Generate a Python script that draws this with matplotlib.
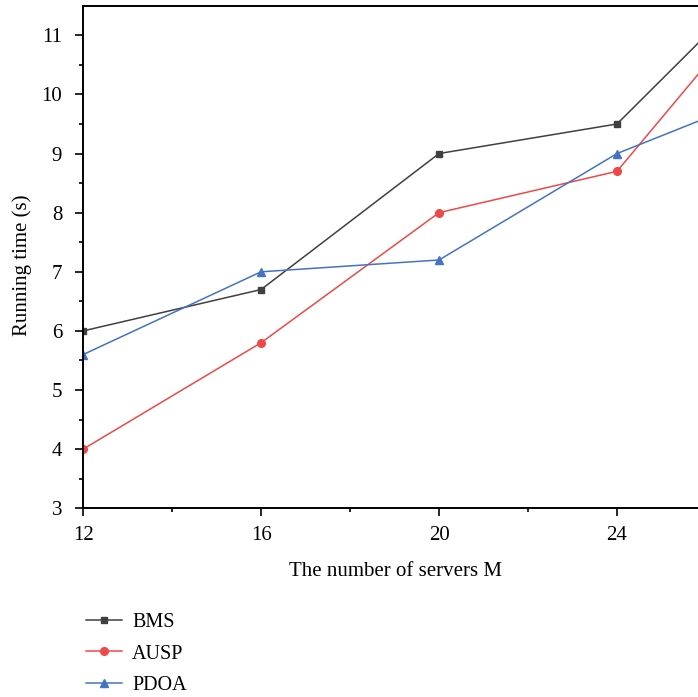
import numpy as np
import matplotlib.pyplot as plt

#Data
servers=[12,16,20,24,28]
bms=[6.0,6.7,9.0,9.5,12.5]
ausp=[4.0,5.8,8.0,8.7,12.3]
pdoa=[5.6,7.0,7.2,9.0,10.2]
x_ticks=[12,16,20,24]
y_ticks=[3,4,5,6,7,8,9,10,11]

plt.rcParams['font.family']=['Liberation Serif','DejaVu Serif']

#Figure (axes runs past the right edge like the reference)
fig=plt.figure(figsize=(6.98,6.97),dpi=100)
ax=fig.add_axes([0.119,0.2707,1.020,0.7211])

ax.plot(servers,bms,color='#404040',lw=1.1,marker='s',ms=5,label='BMS')
ax.plot(servers,ausp,color='#f04848',lw=1.1,marker='o',ms=5.5,label='AUSP')
ax.plot(servers,pdoa,color='#4472c4',lw=1.1,marker='^',ms=6,label='PDOA')

ax.set_xlim(12,28)
ax.set_ylim(3,11.5)
ax.set_xticks(x_ticks)
ax.set_yticks(y_ticks)
ax.set_xticks([14,18,22],minor=True)
ax.set_yticks(np.arange(3.5,11.5,1.0),minor=True)
ax.tick_params(which='major',direction='out',length=6,width=1.2,labelsize=15)
ax.tick_params(axis='y',which='major',pad=9)
ax.tick_params(axis='x',which='major',pad=7)
ax.tick_params(which='minor',direction='out',length=3,width=1.2)
for s in ax.spines.values():
    s.set_linewidth(1.4)

fig.text(0.566,0.180,'The number of servers M',ha='center',va='center',fontsize=15)
fig.text(0.032,0.62,'Running time (s)',ha='center',va='center',rotation=90,fontsize=15)

ax.legend(loc='upper left',bbox_to_anchor=(0.097,0.147),bbox_transform=fig.transFigure,
          frameon=False,fontsize=14.5,handlelength=1.8,labelspacing=0.63,handletextpad=0.5)

plt.savefig('out.png')
